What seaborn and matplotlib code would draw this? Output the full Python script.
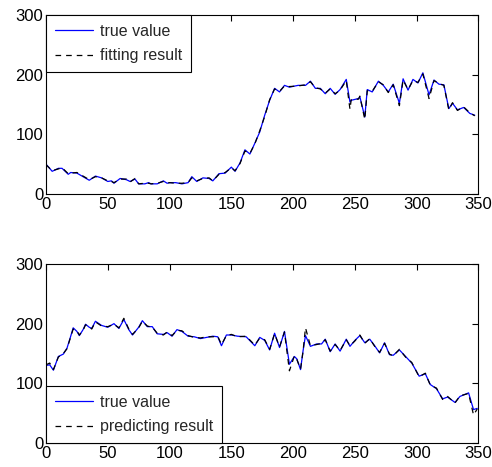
import pandas as pd
import seaborn as sns
import matplotlib.pyplot as plt

# top panel: training set
x_top = [0, 5, 10, 13, 18, 20, 25, 30, 35, 40, 45, 50, 53, 55, 60, 65, 68, 72, 75, 80,
         83, 85, 90, 95, 98, 100, 105, 110, 115, 118, 122, 127, 132, 135, 140, 145, 150, 153, 157, 161,
         165, 169, 173, 177, 181, 185, 189, 193, 197, 204, 210, 214, 218, 222, 226, 230, 234, 238, 243, 246,
         247, 253, 254, 258, 260, 264, 269, 273, 277, 281, 286, 289, 293, 297, 301, 305, 310, 314, 318, 322,
         326, 329, 333, 338, 343, 347]
true_top = [50, 38, 43, 43, 33, 36, 35, 29, 23, 30, 27, 21, 22, 18, 26, 24, 21, 25, 17, 17,
            19, 17, 17, 22, 18, 19, 19, 17, 19, 29, 21, 27, 26, 22, 34, 35, 45, 38, 52, 74,
            67, 85, 104, 132, 157, 177, 171, 182, 179, 182, 182, 189, 177, 177, 168, 177, 167, 175, 192, 154,
            157, 160, 163, 129, 175, 171, 189, 182, 171, 184, 152, 193, 174, 192, 186, 203, 166, 191, 184, 183,
            143, 152, 141, 145, 135, 132]
fit_top = [49, 39, 42, 44, 34, 35, 36, 30, 24, 29, 27, 22, 21, 19, 25, 25, 20, 26, 17, 18,
           18, 17, 18, 21, 18, 19, 18, 18, 19, 27, 22, 26, 27, 22, 33, 36, 44, 39, 51, 72,
           68, 84, 106, 130, 158, 176, 172, 181, 180, 181, 183, 188, 178, 176, 169, 176, 168, 174, 190, 142,
           158, 159, 164, 125, 173, 172, 188, 183, 170, 183, 148, 191, 175, 190, 187, 201, 160, 190, 185, 182,
           141, 153, 140, 146, 136, 131]

# bottom panel: test set
x_bot = [0, 3, 6, 10, 14, 17, 20, 22, 25, 27, 30, 32, 35, 37, 40, 45, 50, 55, 59, 63,
         67, 70, 75, 78, 82, 86, 90, 95, 98, 102, 106, 110, 115, 120, 125, 130, 135, 139, 142, 146,
         150, 155, 162, 169, 173, 177, 181, 185, 189, 193, 197, 201, 203, 206, 208, 210, 214, 219, 223, 226,
         230, 234, 238, 243, 246, 250, 254, 258, 262, 266, 270, 274, 278, 281, 286, 291, 296, 302, 307, 311,
         316, 321, 325, 331, 335, 342, 346, 349]
true_bot = [130, 131, 122, 145, 149, 159, 179, 193, 187, 180, 190, 199, 194, 192, 204, 197, 194, 200, 192, 207,
            190, 181, 194, 205, 195, 195, 183, 182, 185, 179, 190, 187, 179, 178, 175, 177, 179, 178, 163, 181,
            181, 179, 178, 163, 177, 172, 156, 184, 160, 187, 132, 145, 141, 123, 154, 180, 162, 166, 166, 174,
            153, 166, 154, 174, 162, 172, 180, 168, 174, 163, 151, 168, 148, 147, 156, 145, 134, 112, 116, 98,
            91, 74, 77, 68, 78, 84, 56, 58]
pred_bot = [131, 134, 123, 144, 150, 158, 178, 191, 188, 181, 189, 198, 195, 191, 203, 196, 195, 199, 193, 209,
            191, 182, 193, 204, 196, 194, 184, 181, 186, 180, 189, 188, 180, 177, 176, 178, 178, 179, 165, 180,
            182, 178, 179, 164, 176, 173, 157, 183, 161, 186, 121, 146, 140, 124, 153, 193, 163, 165, 167, 173,
            154, 165, 155, 173, 163, 171, 181, 167, 175, 162, 152, 167, 149, 146, 157, 144, 135, 111, 117, 97,
            92, 73, 78, 67, 79, 83, 47, 57]

sns.set_style("white")
plt.rcParams['font.family'] = ['Liberation Sans', 'DejaVu Sans']
plt.rcParams['font.size'] = 12

fig = plt.figure(figsize=(4.92, 4.67), dpi=100)
ax1 = fig.add_axes([0.0935, 0.5846, 0.879, 0.3834])
ax2 = fig.add_axes([0.0935, 0.0514, 0.879, 0.3833])

top = pd.DataFrame({"x": x_top, "true": true_top, "fit": fit_top})
bot = pd.DataFrame({"x": x_bot, "true": true_bot, "pred": pred_bot})

dash = (0, (4.5, 4.0))
sns.lineplot(data=top, x="x", y="true", color="#0000ff", lw=0.9, label="true value", ax=ax1)
sns.lineplot(data=top, x="x", y="fit", color="black", lw=0.9, linestyle=dash, label="fitting result", ax=ax1)
sns.lineplot(data=bot, x="x", y="true", color="#0000ff", lw=0.9, label="true value", ax=ax2)
sns.lineplot(data=bot, x="x", y="pred", color="black", lw=0.9, linestyle=dash, label="predicting result", ax=ax2)

for ax, loc in [(ax1, "upper left"), (ax2, "lower left")]:
    ax.set_xlim(0, 350)
    ax.set_ylim(0, 300)
    ax.set_xticks([0, 50, 100, 150, 200, 250, 300, 350])
    ax.set_yticks([0, 100, 200, 300])
    ax.set_xlabel("")
    ax.set_ylabel("")
    ax.tick_params(direction="in", length=4, width=0.8, top=True, right=True,
                   labelsize=12, colors="black", pad=2)
    for s in ax.spines.values():
        s.set_color("black")
        s.set_linewidth(0.8)
    leg = ax.legend(loc=loc, fancybox=False, framealpha=1, edgecolor="black",
                    borderaxespad=0, fontsize=11.5, handlelength=2.4,
                    borderpad=0.55, labelspacing=0.6, handletextpad=0.4)
    leg.get_frame().set_linewidth(0.8)

fig.savefig("out.png", dpi=100)
